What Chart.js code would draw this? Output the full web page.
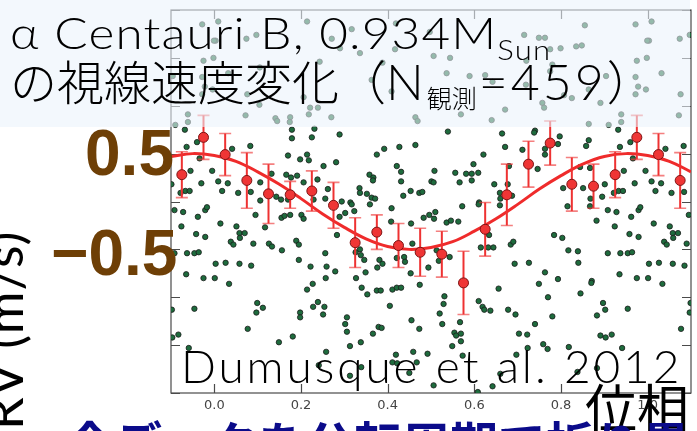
<!DOCTYPE html>
<html lang="ja">
<head>
<meta charset="utf-8">
<title>α Centauri B の視線速度変化</title>
<script src="https://cdn.jsdelivr.net/npm/chart.js@4.4.1/dist/chart.umd.min.js"></script>
<style>
  html, body { margin: 0; padding: 0; background: #fff; }
  #stage { position: relative; width: 697px; height: 431px; overflow: hidden; }
  #phaseChart { position: absolute; left: 0; top: 0; }
  .label { position: absolute; white-space: nowrap; color: #000; }
  #titleBox { position: absolute; left: 0; top: 0; width: 690px; height: 127px; background: rgba(234, 243, 252, 0.58); }
  #title1 { left: 10px; top: 11px; font: 300 43px/1 Lato, "Noto Sans CJK JP", sans-serif; letter-spacing: 1px; transform-origin: 0 0; transform: scaleX(1.15); }
  #title1 .sub { font-size: 27px; position: relative; top: 11px; letter-spacing: 1px; }
  #title2 { left: 10px; top: 56px; font: 300 47px/1 "Noto Sans CJK JP", sans-serif; }
  #title2 .lat { font-family: Lato, sans-serif; font-weight: 300; font-size: 50px; letter-spacing: 3px; }
  #title2 .sub { font-size: 25px; position: relative; top: 8px; margin-right: 2px; }
  .amp { font: bold 64px/1 "Liberation Sans", Arial, sans-serif; color: #6e3f06; }
  #ampHigh { left: 85px; top: 121px; }
  #ampLow { left: 51px; top: 221px; }
  #rvLabel { left: -23px; top: 430px; font: 400 52px/1 Lato, sans-serif; letter-spacing: 1px; transform-origin: 0 0; transform: rotate(-90deg); }
  #source { left: 181px; top: 343px; font: 300 46px/1 Lato, sans-serif; letter-spacing: 2.9px; }
  #phaseLabel { left: 585px; top: 380px; font: 400 52px/1 "Noto Sans CJK JP", sans-serif; }
  #note { left: 66px; top: 417px; font: bold 48px/1 "Noto Sans CJK JP", sans-serif; color: #0b0b8a; }
</style>
</head>
<body>
<div id="stage">
  <canvas id="phaseChart" width="697" height="431"></canvas>
  <div id="titleBox"></div>
  <div class="label" id="title1">α Centauri B, 0.934M<span class="sub">Sun</span></div>
  <div class="label" id="title2">の視線速度変化（<span class="lat">N</span><span class="sub">観測</span><span class="lat">=459</span>）</div>
  <div class="label amp" id="ampHigh">0.5</div>
  <div class="label amp" id="ampLow">−0.5</div>
  <div class="label" id="rvLabel">RV (m/s)</div>
  <div class="label" id="source">Dumusque et al. 2012</div>
  <div class="label" id="phaseLabel">位相</div>
  <div class="label" id="note">全データを公転周期で折り畳んだ結果</div>
</div>
<script>
const xTicks = [0.0, 0.2, 0.4, 0.6, 0.8, 1.0];
const yTicks = [-2.0, -1.5, -1.0, -0.5, 0.0, 0.5, 1.0, 1.5, 2.0];

// single measurements folded on the orbital period: [phase, RV (m/s)]
const observations = [
  [0.009, 1.88], [0.214, 1.88], [0.419, 1.86], [0.317, 1.80], [0.497, 1.77], [0.097, 1.74],
  [0.074, 1.70], [0.003, 1.68], [0.271, 1.70], [0.290, 1.60], [0.336, 1.55], [0.417, 1.59],
  [0.243, 1.46], [0.388, 1.45], [0.105, 1.40], [0.032, 1.34], [0.363, 1.27], [0.409, 1.15],
  [0.076, 1.12], [0.206, 1.09], [0.104, 1.01], [0.221, 0.98], [0.239, 0.98], [0.072, 0.90],
  [0.141, 0.87], [0.175, 0.88], [0.145, 0.84], [0.174, 0.83], [0.218, 0.91], [0.270, 0.88],
  [0.464, 0.88], [0.469, 0.84], [0.179, 0.75], [0.231, 0.76], [0.179, 0.66], [0.225, 0.67],
  [0.289, 0.70], [0.083, 0.58], [0.041, 0.55], [0.170, 0.48], [0.214, 0.49], [0.198, 0.44],
  [0.218, 0.43], [0.281, 0.41], [0.252, 0.37], [0.375, 0.49], [0.392, 0.55], [0.427, 0.57],
  [0.464, 0.59], [0.421, 0.37], [0.431, 0.31], [0.132, 0.29], [0.166, 0.28], [0.191, 0.27],
  [0.177, 0.25], [0.358, 0.28], [0.367, 0.25], [0.366, 0.22], [0.431, 0.21], [0.009, 0.21],
  [0.031, 0.19], [0.106, 0.20], [0.206, 0.20], [0.238, 0.23], [0.262, 0.13], [0.335, 0.14],
  [0.336, 0.09], [0.352, 0.08], [0.363, 0.04], [0.018, 0.11], [0.055, 0.09], [0.084, 0.10],
  [0.106, 0.01], [0.143, 0.05], [0.154, 0.02], [0.170, 0.02], [0.229, 0.02], [0.256, 0.03],
  [0.294, 0.00], [0.314, -0.01], [0.371, 0.03], [0.436, 0.06], [0.453, 0.11], [0.473, 0.09],
  [0.480, 0.10], [0.501, 0.21],
  [0.972, 1.85], [0.855, 1.84], [0.715, 1.74], [0.749, 1.71], [0.763, 1.71], [0.999, 1.68],
  [0.835, 1.62], [0.848, 1.63], [0.799, 1.60], [0.775, 1.59], [0.506, 1.52], [0.544, 1.50],
  [0.998, 1.50], [0.720, 1.47], [0.975, 1.47], [0.780, 1.43], [0.775, 1.36], [0.536, 1.34],
  [0.589, 1.31], [0.625, 1.32], [0.972, 1.30], [0.904, 1.31], [0.642, 1.25], [0.719, 1.22],
  [0.978, 1.20], [0.996, 1.17], [0.864, 1.17], [0.807, 1.11], [0.825, 1.08], [0.972, 1.12],
  [0.757, 1.03], [0.761, 0.98], [0.891, 1.03], [0.671, 0.96], [0.569, 0.91], [0.640, 0.85],
  [0.939, 0.91], [0.939, 0.83], [0.864, 0.81], [0.910, 0.80], [0.539, 0.73], [0.664, 0.71],
  [0.740, 0.74], [0.738, 0.72], [0.797, 0.68], [0.932, 0.75], [0.864, 0.64], [0.793, 0.60],
  [0.671, 0.57], [0.711, 0.54], [0.763, 0.55], [0.858, 0.58], [0.936, 0.57], [0.960, 0.62],
  [0.621, 0.49], [0.763, 0.49], [0.966, 0.45], [0.598, 0.39], [0.680, 0.37], [0.746, 0.34],
  [0.844, 0.36], [0.867, 0.35], [0.508, 0.32], [0.556, 0.30], [0.581, 0.29], [0.594, 0.29],
  [0.609, 0.30], [0.945, 0.32], [0.995, 0.32], [0.506, 0.20], [0.566, 0.20], [0.594, 0.22],
  [0.646, 0.18], [0.677, 0.18], [0.805, 0.14], [0.851, 0.14], [0.901, 0.18], [0.970, 0.19],
  [0.659, 0.09], [0.687, 0.06], [0.660, 0.03], [0.611, -0.01], [0.868, 0.03], [0.922, 0.09],
  [0.933, 0.11], [0.943, 0.11], [0.895, 0.05],
  [0.317, -0.03], [0.359, -0.03], [0.409, -0.07], [0.095, -0.14], [0.155, -0.17], [0.162, -0.15],
  [0.175, -0.14], [0.201, -0.14], [0.206, -0.18], [0.289, -0.16], [0.302, -0.12], [0.323, -0.10],
  [0.014, -0.23], [0.051, -0.26], [0.117, -0.27], [0.408, -0.21], [0.454, -0.23], [0.483, -0.17],
  [0.496, -0.14], [0.058, -0.33], [0.070, -0.33], [0.059, -0.38], [0.283, -0.35], [0.038, -0.42],
  [0.044, -0.45], [0.090, -0.44], [0.126, -0.44], [0.133, -0.47], [0.189, -0.41], [0.195, -0.45],
  [0.156, -0.51], [0.256, -0.54], [0.336, -0.50], [0.338, -0.56], [0.326, -0.53], [0.346, -0.61],
  [0.381, -0.61], [0.388, -0.65], [0.421, -0.59], [0.438, -0.58], [0.440, -0.63], [0.195, -0.61],
  [0.003, -0.65], [0.026, -0.64], [0.058, -0.65], [0.085, -0.67], [0.222, -0.68], [0.259, -0.68],
  [0.279, -0.73], [0.349, -0.74], [0.376, -0.69], [0.457, -0.44], [0.453, -0.75], [0.494, -0.69],
  [0.001, -0.80], [0.257, -0.80], [0.327, -0.80], [0.034, -0.86], [0.227, -0.86], [0.214, -0.92],
  [0.340, -0.90], [0.353, -0.97], [0.375, -0.93], [0.384, -0.93], [0.411, -0.92], [0.421, -0.90],
  [0.431, -0.90], [0.474, -0.87], [0.405, -1.09], [0.099, -1.06], [0.112, -1.11], [0.097, -1.16],
  [0.228, -1.10], [0.239, -1.05], [0.254, -1.10], [0.251, -1.18], [0.198, -1.16], [0.198, -1.21],
  [0.306, -1.21], [0.302, -1.28], [0.306, -1.36], [0.077, -1.33], [0.455, -1.24], [0.379, -1.31],
  [0.386, -1.32], [0.366, -1.38], [0.473, -1.33], [0.181, -1.41], [0.149, -1.47], [0.313, -1.51],
  [0.338, -1.47], [0.258, -1.57], [0.419, -1.60], [0.459, -1.57], [0.492, -1.59], [0.241, -1.71],
  [0.411, -1.68], [0.422, -1.69], [0.339, -1.73], [0.313, -1.82], [0.450, -1.79], [0.467, -1.68],
  [0.572, -0.05], [0.610, -0.03], [0.659, -0.04], [0.815, -0.05], [0.867, -0.05], [0.908, -0.09],
  [0.928, -0.11], [0.979, -0.09], [0.983, -0.06], [0.510, -0.11], [0.507, -0.18], [0.536, -0.22],
  [0.546, -0.20], [0.563, -0.21], [0.882, -0.20], [0.924, -0.26], [0.962, -0.16], [0.784, -0.35],
  [0.803, -0.38], [0.958, -0.34], [0.979, -0.37], [0.513, -0.51], [0.518, -0.62], [0.543, -0.58],
  [0.634, -0.35], [0.615, -0.48], [0.632, -0.48], [0.644, -0.48], [0.684, -0.45], [0.690, -0.42],
  [0.817, -0.51], [0.839, -0.52], [0.908, -0.54], [0.937, -0.54], [0.954, -0.54], [0.964, -0.53],
  [0.693, -0.65], [0.726, -0.64], [0.840, -0.64], [0.763, -0.74], [0.793, -0.81], [0.871, -0.83],
  [0.870, -0.85], [0.935, -0.76], [0.975, -0.80], [0.749, -0.86], [0.656, -0.91], [0.845, -0.96],
  [0.770, -1.00], [0.531, -0.99], [0.529, -1.07], [0.610, -1.04], [0.619, -1.10], [0.623, -1.13],
  [0.637, -1.14], [0.678, -1.13], [0.695, -1.18], [0.897, -1.06], [0.902, -1.13], [0.883, -1.19],
  [0.954, -1.12], [0.780, -1.20], [0.520, -1.17], [0.526, -1.28], [0.567, -1.26], [0.740, -1.28],
  [0.554, -1.37], [0.558, -1.40], [0.569, -1.38], [0.569, -1.46], [0.549, -1.51], [0.703, -1.38],
  [0.722, -1.39], [0.891, -1.40], [0.903, -1.42], [0.917, -1.39], [0.723, -1.53], [0.759, -1.49],
  [0.769, -1.54], [0.818, -1.52], [0.941, -1.53], [0.573, -1.61], [0.697, -1.60], [0.660, -1.80],
  [0.838, -1.78], [0.883, -1.74], [0.506, -1.92], [0.642, -1.93], [0.608, -1.99]
];

// binned averages (bin width 0.05 in phase)
const binPhase = [0.025, 0.075, 0.125, 0.175, 0.225, 0.275, 0.325, 0.375, 0.425, 0.475,
                  0.525, 0.575, 0.625, 0.675, 0.725, 0.775, 0.825, 0.875, 0.925, 0.975];
const binRV    = [0.49, 0.22, 0.08, 0.07, 0.11, -0.04, -0.43, -0.32, -0.46, -0.53,
                  -0.55, -0.85, -0.29, 0.07, 0.39, 0.61, 0.18, 0.16, 0.28, 0.67];
const binErr   = [0.22, 0.29, 0.31, 0.14, 0.21, 0.24, 0.26, 0.18, 0.23, 0.25,
                  0.24, 0.33, 0.28, 0.32, 0.24, 0.23, 0.28, 0.23, 0.24, 0.23];

// fitted orbit, sampled along the phase
const fitPhase = [-0.10, -0.05, 0.00, 0.05, 0.10, 0.15, 0.20, 0.25, 0.30, 0.35, 0.40, 0.45, 0.50,
                  0.55, 0.60, 0.65, 0.70, 0.75, 0.80, 0.85, 0.90, 0.95, 1.00, 1.05, 1.10];
const fitRV    = [0.47, 0.50, 0.48, 0.42, 0.31, 0.18, 0.03, -0.13, -0.27, -0.39, -0.47, -0.50, -0.48,
                  -0.42, -0.31, -0.18, -0.03, 0.13, 0.27, 0.39, 0.47, 0.50, 0.48, 0.42, 0.31];

// the phase axis runs from -0.1 to 1.1, so both ends of the cycle are shown twice
function repeatEdges(points) {
  const out = [];
  points.forEach(p => {
    out.push(p);
    if (p.x >= 0.9) out.push({ ...p, x: p.x - 1 });
    if (p.x <= 0.1) out.push({ ...p, x: p.x + 1 });
  });
  return out;
}

const obsPoints = repeatEdges(observations.map(([p, v]) => ({ x: p, y: v })));
const binPoints = repeatEdges(binPhase.map((p, i) => ({ x: p, y: binRV[i], err: binErr[i] })));
const fitPoints = fitPhase.map((p, i) => ({ x: p, y: fitRV[i] }));

// box around the plot with inward ticks on all four sides
const framePlugin = {
  id: 'frame',
  beforeDatasetsDraw(chart) {
    const { ctx, chartArea: a, scales: { x, y } } = chart;
    const len = 9;
    ctx.save();
    ctx.strokeStyle = '#4a4a4a';
    ctx.lineWidth = 1.2;
    ctx.strokeRect(a.left, a.top, a.right - a.left, a.bottom - a.top);
    ctx.beginPath();
    xTicks.forEach(v => {
      const px = Math.round(x.getPixelForValue(v)) + 0.5;
      ctx.moveTo(px, a.bottom); ctx.lineTo(px, a.bottom - len);
      ctx.moveTo(px, a.top); ctx.lineTo(px, a.top + len);
    });
    yTicks.forEach(v => {
      const py = Math.round(y.getPixelForValue(v)) + 0.5;
      ctx.moveTo(a.left, py); ctx.lineTo(a.left + len, py);
      ctx.moveTo(a.right, py); ctx.lineTo(a.right - len, py);
    });
    ctx.stroke();
    ctx.restore();
  }
};

// vertical error bars with caps, drawn just before the binned markers
const errorBarPlugin = {
  id: 'errorBars',
  beforeDatasetDraw(chart, args) {
    const ds = chart.data.datasets[args.index];
    if (!ds.withErrors) return;
    const { ctx, chartArea: a, scales: { x, y } } = chart;
    ctx.save();
    ctx.beginPath();
    ctx.rect(a.left, a.top, a.right - a.left, a.bottom - a.top);
    ctx.clip();
    ds.data.forEach(d => {
      const px = x.getPixelForValue(d.x);
      const top = y.getPixelForValue(d.y + d.err);
      const bottom = y.getPixelForValue(d.y - d.err);
      ctx.strokeStyle = '#ee3232';
      ctx.lineWidth = 2;
      ctx.beginPath();
      ctx.moveTo(px, top); ctx.lineTo(px, bottom);
      ctx.stroke();
      ctx.strokeStyle = 'rgba(238, 60, 60, 0.65)';
      ctx.lineWidth = 1.6;
      ctx.beginPath();
      ctx.moveTo(px - 6, top); ctx.lineTo(px + 6, top);
      ctx.moveTo(px - 6, bottom); ctx.lineTo(px + 6, bottom);
      ctx.stroke();
    });
    ctx.restore();
  }
};

new Chart(document.getElementById('phaseChart'), {
  type: 'scatter',
  data: {
    datasets: [
      {
        label: 'RV',
        data: obsPoints,
        pointRadius: 2.7,
        pointBackgroundColor: '#1e6b3d',
        pointBorderColor: '#1b1b1b',
        pointBorderWidth: 0.8,
        order: 3
      },
      {
        type: 'line',
        label: 'fit',
        data: fitPoints,
        showLine: true,
        borderColor: '#ef2b2b',
        borderWidth: 3,
        pointRadius: 0,
        tension: 0.4,
        fill: false,
        order: 2
      },
      {
        label: 'binned',
        data: binPoints,
        withErrors: true,
        pointRadius: 5,
        pointBackgroundColor: '#ef3535',
        pointBorderColor: '#7d1414',
        pointBorderWidth: 1,
        order: 1
      }
    ]
  },
  options: {
    responsive: false,
    animation: false,
    devicePixelRatio: 1,
    layout: { padding: { left: 171, right: 3, top: 10, bottom: 0 } },
    plugins: {
      legend: { display: false },
      tooltip: { enabled: false }
    },
    scales: {
      x: {
        type: 'linear',
        min: -0.1,
        max: 1.1,
        afterBuildTicks: axis => { axis.ticks = xTicks.map(v => ({ value: v })); },
        afterFit: axis => { axis.height = 38; },
        grid: { display: false, drawTicks: false },
        border: { display: false },
        ticks: {
          autoSkip: false,
          maxRotation: 0,
          padding: 5,
          color: '#444',
          font: { family: 'DejaVu Sans', size: 13 },
          callback: v => Number(v).toFixed(1)
        }
      },
      y: { type: 'linear', min: -2, max: 2, display: false }
    }
  },
  plugins: [framePlugin, errorBarPlugin]
});
</script>
</body>
</html>
